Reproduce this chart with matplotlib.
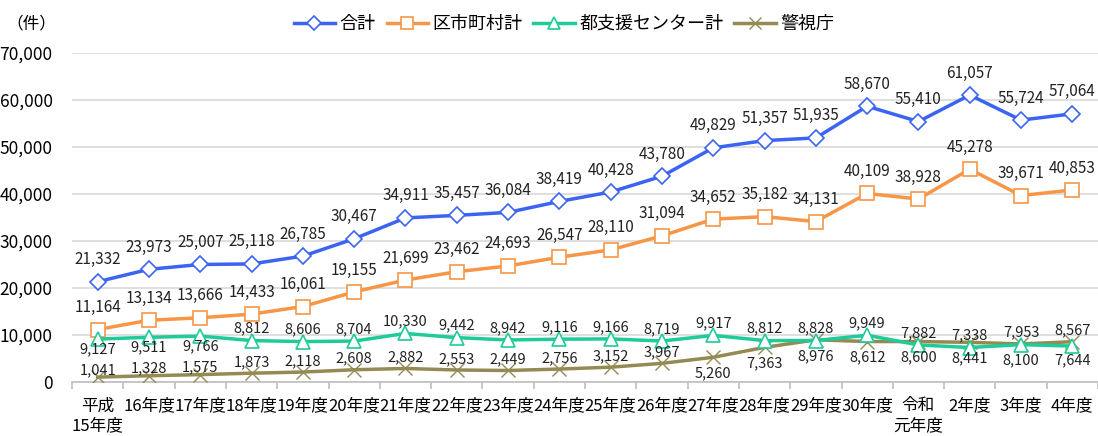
import matplotlib.pyplot as plt
import numpy as np

plt.rcParams['font.family'] = ['Noto Sans CJK JP', 'DejaVu Sans']

years = ['平成\n15年度', '16年度', '17年度', '18年度', '19年度', '20年度', '21年度',
         '22年度', '23年度', '24年度', '25年度', '26年度', '27年度', '28年度',
         '29年度', '30年度', '令和\n元年度', '2年度', '3年度', '4年度']

total = [21332, 23973, 25007, 25118, 26785, 30467, 34911, 35457, 36084, 38419,
         40428, 43780, 49829, 51357, 51935, 58670, 55410, 61057, 55724, 57064]
kushichoson = [11164, 13134, 13666, 14433, 16061, 19155, 21699, 23462, 24693, 26547,
               28110, 31094, 34652, 35182, 34131, 40109, 38928, 45278, 39671, 40853]
center = [9127, 9511, 9766, 8812, 8606, 8704, 10330, 9442, 8942, 9116,
          9166, 8719, 9917, 8812, 8828, 9949, 7882, 7338, 7953, 7644]
police = [1041, 1328, 1575, 1873, 2118, 2608, 2882, 2553, 2449, 2756,
          3152, 3967, 5260, 7363, 8976, 8612, 8600, 8441, 8100, 8567]

# label placement: 1 = above, -1 = below
center_pos = [-1, -1, -1] + [1] * 16 + [-1]
police_pos = [1] * 12 + [-1] * 7 + [1]

c_blue = '#3C64F2'
c_orange = '#F79646'
c_green = '#1FCB98'
c_olive = '#948A54'

x = np.arange(len(years))

fig = plt.figure(figsize=(10.98, 4.36), dpi=100)
ax = fig.add_axes([72 / 1098, 1 - 382 / 436, 1 - 72 / 1098, (382 - 53) / 436])

ax.plot(x, total, color=c_blue, lw=2.5, marker='D', ms=8, mfc='white',
        mec=c_blue, mew=1.2, label='合計', zorder=5)
ax.plot(x, kushichoson, color=c_orange, lw=2.5, marker='s', ms=10, mfc='white',
        mec=c_orange, mew=1.2, label='区市町村計', zorder=5)
ax.plot(x, police, color=c_olive, lw=2.5, marker='x', ms=10, mew=1.0,
        label='警視庁', zorder=4)
ax.plot(x, center, color=c_green, lw=2.5, marker='^', ms=10, mfc='white',
        mec=c_green, mew=1.2, label='都支援センター計', zorder=5)

def put_labels(vals, dys, size=11):
    for i, (v, dy) in enumerate(zip(vals, dys)):
        ax.annotate(f'{v:,}', (x[i], v), xytext=(0, dy), textcoords='offset pixels',
                    ha='center', va='center', fontsize=size, color='#222222', zorder=6)

put_labels(total, [22] * len(total))
put_labels(kushichoson, [22] * len(kushichoson))
# the first three green/olive labels sit tight between the two lines
put_labels(center, [12 if p > 0 else (-10 if i < 3 else -14)
                    for i, p in enumerate(center_pos)], 10.5)
put_labels(police, [(7 if i < 3 else 11) if p > 0 else -16
                    for i, p in enumerate(police_pos)], 10.5)

ax.set_xlim(-0.5, len(years) - 0.5)
ax.set_ylim(0, 70000)
ax.set_yticks(np.arange(0, 70001, 10000))
ax.set_yticklabels([f'{v:,}' for v in range(0, 70001, 10000)])
ax.yaxis.grid(True, color='#D9D9D9', lw=1.2)
ax.set_axisbelow(True)

ax.set_xticks(x)
ax.set_xticklabels(years, fontsize=12, linespacing=1.2)
ax.set_xticks(np.arange(-0.5, len(years), 1), minor=True)
ax.tick_params(axis='x', which='major', length=0, pad=11)
ax.tick_params(axis='x', which='minor', length=5, color='#BFBFBF', width=1.2)
ax.tick_params(axis='y', length=0, pad=14, labelsize=12.5)
for lab in ax.get_xticklabels():
    lab.set_verticalalignment('top')

for s in ['top', 'right', 'left']:
    ax.spines[s].set_visible(False)
ax.spines['bottom'].set_color('#BFBFBF')
ax.spines['bottom'].set_linewidth(1.2)

fig.text(6 / 1098, 1 - 24 / 436, '（件）', fontsize=12, va='center', ha='left')

handles, labels = ax.get_legend_handles_labels()
order = [0, 1, 3, 2]
fig.legend([handles[i] for i in order], [labels[i] for i in order],
           loc='center', bbox_to_anchor=(564 / 1098, 1 - 24 / 436), ncol=4,
           frameon=False, fontsize=13, handlelength=2.3, handletextpad=0.25,
           columnspacing=0.6, markerscale=0.9)

fig.savefig('out.png', dpi=100)
